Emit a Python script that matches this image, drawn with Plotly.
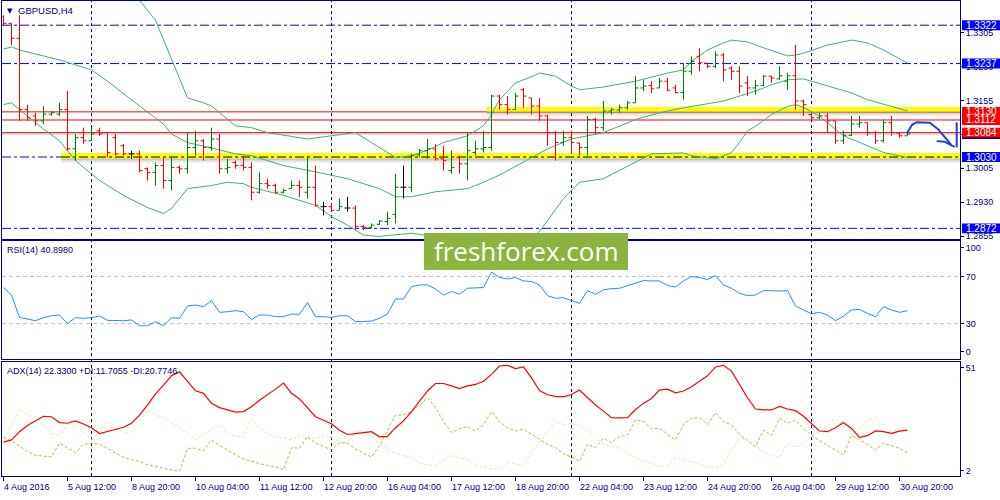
import plotly.graph_objects as go

# ---------------- data ----------------
symbol_title = "GBPUSD,H4"
rsi_title = "RSI(14) 40.8980"
adx_title = "ADX(14) 22.3300 +DI:11.7055 -DI:20.7746"

x_label_bars = [0, 8, 16, 24, 32, 40, 48, 56, 64, 72, 80, 88, 96, 104, 112]
x_labels = ["4 Aug 2016", "5 Aug 12:00", "8 Aug 20:00", "10 Aug 04:00", "11 Aug 12:00",
            "12 Aug 20:00", "16 Aug 04:00", "17 Aug 12:00", "18 Aug 20:00", "22 Aug 04:00",
            "23 Aug 12:00", "24 Aug 20:00", "26 Aug 04:00", "29 Aug 12:00", "30 Aug 20:00"]
separator_bars = [11, 41, 71, 101]

opens = [1.3340, 1.3326, 1.3293, 1.3135, 1.3121, 1.3110, 1.3125, 1.3125, 1.3135, 1.3048,
         1.3073, 1.3066, 1.3088, 1.3084, 1.3073, 1.3055, 1.3037, 1.3037, 1.3004, 1.2996,
         1.3011, 1.2978, 1.3007, 1.3004, 1.3051, 1.3066, 1.3051, 1.3070, 1.3004, 1.3018,
         1.3011, 1.3007, 1.2952, 1.2971, 1.2967, 1.2952, 1.2960, 1.2967, 1.2952, 1.2963,
         1.2920, 1.2920, 1.2912, 1.2917, 1.2917, 1.2876, 1.2874, 1.2881, 1.2887, 1.2903,
         1.2963, 1.2963, 1.3035, 1.3044, 1.3048, 1.3026, 1.3000, 1.3029, 1.3015, 1.3040,
         1.3048, 1.3051, 1.3165, 1.3146, 1.3135, 1.3179, 1.3161, 1.3143, 1.3121, 1.3084,
         1.3062, 1.3073, 1.3061, 1.3051, 1.3113, 1.3095, 1.3132, 1.3134, 1.3139, 1.3150,
         1.3183, 1.3188, 1.3183, 1.3198, 1.3183, 1.3173, 1.3220, 1.3253, 1.3238, 1.3231,
         1.3256, 1.3227, 1.3220, 1.3194, 1.3183, 1.3188, 1.3209, 1.3203, 1.3198, 1.3210,
         1.3154, 1.3124, 1.3117, 1.3121, 1.3110, 1.3066, 1.3078, 1.3103, 1.3106, 1.3084,
         1.3066, 1.3106, 1.3083, 1.3077]
highs = [1.3344, 1.3326, 1.3344, 1.3146, 1.3128, 1.3143, 1.3132, 1.3150, 1.3176, 1.3081,
         1.3095, 1.3095, 1.3095, 1.3084, 1.3081, 1.3059, 1.3044, 1.3044, 1.3007, 1.3018,
         1.3029, 1.3029, 1.3011, 1.3084, 1.3088, 1.3070, 1.3095, 1.3081, 1.3026, 1.3022,
         1.3033, 1.3018, 1.2996, 1.2982, 1.2971, 1.2960, 1.2978, 1.2978, 1.3033, 1.3011,
         1.2931, 1.2927, 1.2938, 1.2942, 1.2923, 1.2879, 1.2883, 1.2890, 1.2909, 1.2993,
         1.3011, 1.3037, 1.3048, 1.3070, 1.3059, 1.3055, 1.3044, 1.3033, 1.3084, 1.3066,
         1.3088, 1.3168, 1.3168, 1.3165, 1.3172, 1.3183, 1.3161, 1.3161, 1.3124, 1.3088,
         1.3088, 1.3088, 1.3062, 1.3121, 1.3117, 1.3154, 1.3139, 1.3146, 1.3154, 1.3209,
         1.3201, 1.3198, 1.3205, 1.3205, 1.3190, 1.3238, 1.3253, 1.3271, 1.3238, 1.3264,
         1.3260, 1.3231, 1.3231, 1.3209, 1.3201, 1.3212, 1.3210, 1.3231, 1.3216, 1.3278,
         1.3157, 1.3128, 1.3128, 1.3128, 1.3110, 1.3088, 1.3121, 1.3121, 1.3106, 1.3088,
         1.3113, 1.3121, 1.3084, 1.3084]
lows = [1.3322, 1.3278, 1.3110, 1.3110, 1.3099, 1.3103, 1.3121, 1.3121, 1.3044, 1.3022,
        1.3059, 1.3066, 1.3077, 1.3029, 1.3033, 1.3033, 1.3026, 1.2996, 1.2978, 1.2967,
        1.2960, 1.2956, 1.2993, 1.2993, 1.3033, 1.3022, 1.3044, 1.2993, 1.2993, 1.3004,
        1.3000, 1.2934, 1.2949, 1.2960, 1.2949, 1.2949, 1.2960, 1.2942, 1.2938, 1.2920,
        1.2901, 1.2909, 1.2912, 1.2909, 1.2868, 1.2868, 1.2872, 1.2879, 1.2879, 1.2883,
        1.2938, 1.2952, 1.3029, 1.3026, 1.3022, 1.3000, 1.2993, 1.2993, 1.2978, 1.3033,
        1.3040, 1.3044, 1.3135, 1.3124, 1.3135, 1.3139, 1.3124, 1.3110, 1.3055, 1.3022,
        1.3055, 1.3037, 1.3033, 1.3033, 1.3081, 1.3088, 1.3124, 1.3128, 1.3135, 1.3150,
        1.3176, 1.3172, 1.3183, 1.3176, 1.3172, 1.3157, 1.3212, 1.3220, 1.3227, 1.3227,
        1.3198, 1.3201, 1.3172, 1.3165, 1.3168, 1.3187, 1.3194, 1.3201, 1.3179, 1.3135,
        1.3121, 1.3113, 1.3113, 1.3084, 1.3059, 1.3059, 1.3077, 1.3095, 1.3077, 1.3059,
        1.3062, 1.3077, 1.3073, 1.3077]
closes = [1.3326, 1.3293, 1.3135, 1.3117, 1.3110, 1.3125, 1.3128, 1.3135, 1.3048, 1.3073,
          1.3066, 1.3081, 1.3081, 1.3040, 1.3037, 1.3037, 1.3037, 1.3000, 1.2996, 1.3011,
          1.2978, 1.3007, 1.3004, 1.3051, 1.3066, 1.3051, 1.3070, 1.3004, 1.3007, 1.3011,
          1.3007, 1.2952, 1.2971, 1.2967, 1.2952, 1.2956, 1.2967, 1.2963, 1.2963, 1.2923,
          1.2920, 1.2912, 1.2920, 1.2917, 1.2876, 1.2874, 1.2879, 1.2888, 1.2894, 1.2963,
          1.2963, 1.3033, 1.3044, 1.3048, 1.3026, 1.3022, 1.3007, 1.3015, 1.3044, 1.3048,
          1.3051, 1.3165, 1.3146, 1.3135, 1.3165, 1.3165, 1.3143, 1.3121, 1.3084, 1.3062,
          1.3073, 1.3062, 1.3051, 1.3113, 1.3095, 1.3132, 1.3135, 1.3139, 1.3150, 1.3183,
          1.3187, 1.3181, 1.3198, 1.3178, 1.3173, 1.3220, 1.3242, 1.3239, 1.3231, 1.3256,
          1.3223, 1.3220, 1.3187, 1.3183, 1.3188, 1.3209, 1.3205, 1.3210, 1.3210, 1.3154,
          1.3146, 1.3117, 1.3121, 1.3110, 1.3066, 1.3078, 1.3103, 1.3106, 1.3084, 1.3066,
          1.3106, 1.3084, 1.3077, 1.3081]

bb_upper_bars = [0, 2, 5, 7, 11, 13, 15, 17, 19, 21, 23, 25, 26, 29, 31, 33, 38, 41, 44, 46,
                 48, 49, 51, 53, 55, 58, 60, 61, 62, 64, 66, 67, 69, 71, 72, 75, 79, 83, 85, 86,
                 88, 90, 91, 93, 95, 97, 98, 99, 100, 101, 103, 106, 108, 110, 113]
bb_upper = [1.3391, 1.3406, 1.3421, 1.3425, 1.3425, 1.3417, 1.3399, 1.3377, 1.3333, 1.3245,
            1.3161, 1.3150, 1.3143, 1.3099, 1.3095, 1.3084, 1.3070, 1.3077, 1.3084, 1.3062,
            1.3040, 1.3029, 1.3033, 1.3045, 1.3062, 1.3077, 1.3099, 1.3124, 1.3157, 1.3194,
            1.3208, 1.3216, 1.3209, 1.3187, 1.3179, 1.3185, 1.3198, 1.3216, 1.3223, 1.3242,
            1.3267, 1.3283, 1.3289, 1.3285, 1.3272, 1.3261, 1.3254, 1.3256, 1.3260, 1.3266,
            1.3278, 1.3289, 1.3283, 1.3267, 1.3238]
bb_middle_bars = [0, 1, 2, 7, 11, 13, 17, 20, 21, 23, 26, 29, 31, 35, 39, 43, 47, 49, 51, 54,
                  58, 60, 62, 66, 68, 71, 75, 79, 82, 85, 89, 90, 92, 94, 96, 98, 100, 101, 103,
                  106, 108, 111, 113]
bb_middle = [1.3269, 1.3274, 1.3267, 1.3245, 1.3223, 1.3198, 1.3143, 1.3103, 1.3081, 1.3062,
             1.3050, 1.3037, 1.3033, 1.3011, 1.2997, 1.2982, 1.2960, 1.2942, 1.2942, 1.2953,
             1.2960, 1.2974, 1.2990, 1.3029, 1.3048, 1.3070, 1.3084, 1.3113, 1.3128, 1.3139,
             1.3150, 1.3154, 1.3165, 1.3176, 1.3190, 1.3201, 1.3203, 1.3198, 1.3188, 1.3172,
             1.3157, 1.3143, 1.3132]
bb_lower_bars = [0, 1, 2, 5, 7, 9, 12, 15, 18, 20, 21, 23, 26, 28, 30, 31, 35, 39, 41, 43,
                 45, 47, 48, 51, 54, 57, 61, 64, 66, 67, 70, 72, 75, 77, 79, 81, 85, 86, 89, 91,
                 92, 93, 94, 96, 98, 99, 100, 102, 103, 105, 108, 110, 113]
bb_lower = [1.3146, 1.3150, 1.3135, 1.3092, 1.3066, 1.3022, 1.2978, 1.2945, 1.2918, 1.2905,
            1.2916, 1.2960, 1.2967, 1.2974, 1.2971, 1.2963, 1.2945, 1.2923, 1.2898, 1.2879,
            1.2857, 1.2854, 1.2856, 1.2861, 1.2854, 1.2850, 1.2840, 1.2840, 1.2850, 1.2865,
            1.2938, 1.2974, 1.2982, 1.3000, 1.3018, 1.3037, 1.3039, 1.3033, 1.3026, 1.3040,
            1.3062, 1.3088, 1.3098, 1.3124, 1.3142, 1.3146, 1.3140, 1.3120, 1.3106, 1.3077,
            1.3055, 1.3040, 1.3029]

rsi = [60.6, 54.3, 35.3, 33.6, 32.5, 35.1, 36.7, 37.3, 30.2, 35.1,
       34.5, 35.1, 36.4, 32.8, 32.5, 32.5, 33.1, 28.2, 28.2, 31.6,
       28.2, 35.0, 34.5, 45.0, 45.8, 44.4, 49.5, 39.6, 40.1, 41.0,
       40.1, 33.6, 37.3, 37.3, 35.9, 35.9, 38.2, 37.9, 47.8, 35.9,
       35.9, 35.3, 36.7, 36.7, 31.6, 31.9, 32.2, 34.5, 38.2, 50.9,
       50.9, 61.4, 62.8, 62.8, 59.4, 54.3, 57.2, 54.9, 60.0, 60.3,
       60.6, 73.6, 69.1, 67.9, 69.1, 66.2, 65.7, 62.8, 53.7, 51.5,
       52.0, 49.5, 47.2, 58.0, 54.9, 58.6, 59.7, 60.0, 62.3, 64.8,
       66.5, 66.2, 66.2, 62.3, 61.1, 66.2, 69.9, 69.1, 67.4, 70.8,
       62.8, 60.0, 55.7, 53.7, 54.3, 58.0, 57.7, 57.7, 58.0, 45.0,
       41.6, 38.4, 39.6, 37.3, 32.5, 36.4, 41.6, 42.1, 38.7, 35.9,
       44.4, 41.6, 39.6, 41.0]
rsi_levels = [70, 30]

adx = [16.5, 17.5, 21.0, 23.6, 25.7, 27.6, 27.4, 24.9, 24.6, 25.6,
       24.3, 22.7, 20.2, 21.0, 21.9, 22.9, 24.6, 28.1, 32.4, 37.2,
       40.9, 44.9, 46.6, 42.6, 38.5, 37.4, 33.1, 31.3, 30.3, 29.4,
       29.6, 31.7, 34.4, 36.7, 39.2, 41.8, 37.4, 35.0, 31.3, 27.4,
       25.9, 24.4, 21.6, 19.8, 20.2, 20.5, 21.0, 18.8, 19.0, 22.7,
       25.6, 29.6, 34.1, 38.4, 41.6, 41.6, 40.6, 39.4, 40.6, 41.2,
       42.6, 45.5, 49.1, 49.4, 48.0, 48.7, 44.0, 38.6, 36.8, 36.1,
       35.9, 36.9, 38.8, 35.5, 32.4, 29.8, 27.0, 26.9, 27.0, 30.5,
       33.1, 35.2, 38.8, 39.2, 37.6, 38.4, 40.2, 42.6, 44.9, 48.7,
       49.4, 46.9, 40.9, 35.5, 30.7, 30.3, 30.3, 31.8, 30.7, 30.0,
       27.6, 24.4, 21.3, 21.0, 22.7, 24.9, 22.4, 18.6, 19.3, 21.3,
       21.0, 20.3, 21.2, 21.7]
plus_di = [18.5, 17.0, 14.8, 12.5, 10.9, 10.7, 10.2, 16.1, 14.2, 12.1,
           15.6, 16.1, 15.6, 13.9, 11.8, 10.1, 9.0, 8.3, 6.8, 6.0,
           5.4, 4.7, 4.0, 13.9, 13.9, 12.8, 17.5, 15.1, 13.2, 11.1,
           9.4, 8.3, 7.3, 6.5, 6.0, 4.7, 14.2, 13.9, 18.9, 16.1,
           14.6, 13.2, 16.3, 16.1, 13.6, 11.8, 10.1, 15.1, 21.7, 28.1,
           28.1, 29.6, 32.4, 35.5, 31.3, 25.3, 20.7, 22.2, 23.2, 21.3,
           24.1, 29.6, 25.3, 22.7, 21.3, 22.2, 19.9, 17.9, 15.6, 14.2,
           11.5, 10.2, 8.3, 15.6, 14.2, 18.2, 16.3, 18.9, 19.6, 26.0,
           25.3, 22.2, 22.4, 19.9, 17.5, 24.1, 26.7, 27.0, 24.1, 29.1,
           25.3, 23.9, 19.9, 17.1, 14.6, 21.7, 19.3, 26.7, 24.6, 26.0,
           22.2, 19.6, 17.1, 15.1, 13.2, 11.1, 19.3, 17.8, 15.4, 13.2,
           16.1, 15.1, 13.9, 11.8]
minus_di = [18.2, 23.9, 30.7, 27.9, 27.4, 23.9, 20.3, 19.6, 24.1, 24.1,
            20.8, 17.8, 20.8, 25.0, 22.2, 20.8, 20.8, 24.6, 30.3, 28.1,
            27.0, 24.9, 22.7, 20.3, 17.5, 19.6, 22.0, 23.9, 20.8, 18.9,
            18.9, 26.4, 22.4, 20.3, 18.9, 18.2, 17.6, 19.3, 17.8, 18.2,
            19.3, 18.2, 16.8, 16.1, 21.3, 21.3, 18.9, 16.1, 13.6, 11.8,
            10.8, 9.7, 7.5, 6.8, 6.5, 9.0, 10.7, 10.0, 9.0, 6.8,
            5.7, 5.1, 5.1, 7.9, 7.1, 6.5, 12.5, 16.1, 21.0, 25.3,
            23.9, 24.6, 23.4, 21.7, 18.2, 15.6, 14.6, 13.9, 12.2, 9.7,
            8.5, 7.5, 6.1, 6.5, 10.0, 9.0, 8.3, 7.1, 6.1, 5.4,
            7.1, 13.2, 17.8, 18.2, 15.1, 12.5, 10.8, 10.0, 16.1, 14.2,
            16.1, 19.3, 20.8, 23.9, 26.7, 23.2, 19.9, 22.4, 26.0, 27.0,
            23.9, 21.3, 22.7, 22.4]

price_ticks = [1.3305, 1.3230, 1.3155, 1.3080, 1.3005, 1.2930, 1.2855]
blue_levels = [1.3322, 1.3237, 1.3030, 1.2872]
red_levels = [1.3130, 1.3112, 1.3084]
yellow_zones = [(60.4, 1.3130, 1.3141), (7.2, 1.30265, 1.3039)]
support_line = (7.2, 1.3030)
rsi_tick_vals = [94.6, 70, 30, 6.1]
rsi_tick_text = ["100", "70", "30", "0"]
adx_tick_vals = [48.3, 4.26]
adx_tick_text = ["51", "2"]

n = len(closes)
for arr in (opens, highs, lows, rsi, adx, plus_di, minus_di):
    assert len(arr) == n, len(arr)

# ---------------- layout helpers ----------------
NAVY = "#000080"
FONT = "Liberation Sans, Arial, sans-serif"
W, H = 1000, 500
ML, MR = 2, 40
PW = W - ML - MR


def fx(px):
    return (px - ML) / PW


def fy(py):
    return 1 - py / H


XR = [-0.1875, 119.5625]
PRICE_RANGE = [1.28483, 1.33756]
main_dom = [fy(240), fy(1)]
rsi_dom = [fy(360.5), fy(242)]
adx_dom = [fy(478), fy(363)]

fig = go.Figure()

# Bollinger bands
for bx, by in ((bb_upper_bars, bb_upper), (bb_middle_bars, bb_middle), (bb_lower_bars, bb_lower)):
    fig.add_trace(go.Scatter(x=bx, y=by, mode="lines", xaxis="x", yaxis="y",
                             line=dict(color="#3CB371", width=1), hoverinfo="skip"))

# OHLC bars
TICK = 0.375
groups = {"#008000": [], "#FF0000": [], "#000000": []}
for i in range(n):
    if closes[i] > opens[i]:
        groups["#008000"].append(i)
    elif closes[i] < opens[i]:
        groups["#FF0000"].append(i)
    else:
        groups["#000000"].append(i)
for color, idx in groups.items():
    xs, ys = [], []
    for i in idx:
        xs += [i, i, None, i - TICK, i, None, i, i + TICK, None]
        ys += [lows[i], highs[i], None, opens[i], opens[i], None, closes[i], closes[i], None]
    fig.add_trace(go.Scatter(x=xs, y=ys, mode="lines", xaxis="x", yaxis="y",
                             line=dict(color=color, width=1), hoverinfo="skip"))

bars = list(range(n))
# RSI
fig.add_trace(go.Scatter(x=bars, y=rsi, mode="lines", xaxis="x2", yaxis="y2",
                         line=dict(color="#1E90FF", width=1), hoverinfo="skip"))
# ADX
fig.add_trace(go.Scatter(x=bars, y=minus_di, mode="lines", xaxis="x3", yaxis="y3",
                         line=dict(color="#F5DEB3", width=1, dash="3px,2px"), hoverinfo="skip"))
fig.add_trace(go.Scatter(x=bars, y=plus_di, mode="lines", xaxis="x3", yaxis="y3",
                         line=dict(color="#9ACD32", width=1, dash="3px,2px"), hoverinfo="skip"))
fig.add_trace(go.Scatter(x=bars, y=adx, mode="lines", xaxis="x3", yaxis="y3",
                         line=dict(color="#FF0000", width=1.2), hoverinfo="skip"))

shapes = []
# yellow zones with soft shadow
for x0, lo, hi in yellow_zones:
    shapes.append(dict(type="rect", xref="x", yref="y", x0=x0, x1=XR[1], y0=lo, y1=hi,
                       fillcolor="#FFFF00", line=dict(width=0), layer="below"))
    shapes.append(dict(type="rect", xref="x", yref="y", x0=x0, x1=XR[1], y0=lo - 0.00040, y1=lo,
                       fillcolor="rgba(0,0,0,0.22)", line=dict(width=0), layer="below"))
    shapes.append(dict(type="rect", xref="x", yref="y", x0=x0, x1=XR[1], y0=lo - 0.00090, y1=lo - 0.00040,
                       fillcolor="rgba(0,0,0,0.08)", line=dict(width=0), layer="below"))
for lv in blue_levels:
    shapes.append(dict(type="line", xref="paper", yref="y", x0=0, x1=1, y0=lv, y1=lv,
                       line=dict(color="#0000FF", width=1, dash="9px,3px,3px,3px"), layer="below"))
shapes.append(dict(type="line", xref="x", yref="y", x0=support_line[0], x1=XR[1],
                   y0=support_line[1], y1=support_line[1],
                   line=dict(color="#000000", width=1, dash="9px,3px,3px,3px"), layer="below"))
# bid line
shapes.append(dict(type="line", xref="paper", yref="y", x0=0, x1=1, y0=closes[-1], y1=closes[-1],
                   line=dict(color="#C0C0C0", width=1), layer="below"))
for lv in red_levels:
    shapes.append(dict(type="line", xref="paper", yref="y", x0=0, x1=1, y0=lv, y1=lv,
                       line=dict(color="#FF0000", width=1), layer="below"))
# RSI levels
for lv in rsi_levels:
    shapes.append(dict(type="line", xref="paper", yref="y2", x0=0, x1=1, y0=lv, y1=lv,
                       line=dict(color="#C0C0C0", width=1, dash="4px,3px"), layer="below"))
# period separators
for b in separator_bars:
    shapes.append(dict(type="line", xref="x", yref="paper", x0=b, x1=b, y0=adx_dom[0], y1=main_dom[1],
                       line=dict(color=NAVY, width=1, dash="3px,3px"), layer="below"))

# price boxes on the right scale
BH = 0.00110
box_x0, box_x1 = fx(962), fx(1000)
annotations = []
# bid label box (mostly hidden)
shapes.append(dict(type="rect", xref="paper", yref="y", x0=box_x0, x1=box_x1,
                   y0=closes[-1] - BH, y1=closes[-1] + BH, fillcolor=NAVY, line=dict(width=0), layer="above"))
for lv in blue_levels:
    shapes.append(dict(type="rect", xref="paper", yref="y", x0=box_x0, x1=box_x1, y0=lv - BH, y1=lv + BH,
                       fillcolor="#0000FF", line=dict(width=0), layer="above"))
    annotations.append(dict(xref="paper", yref="y", x=fx(964), y=lv, text=f"{lv:.4f}", showarrow=False,
                            xanchor="left", yanchor="middle", font=dict(family=FONT, size=10, color="white")))
for lv in red_levels:
    shapes.append(dict(type="rect", xref="paper", yref="y", x0=box_x0, x1=box_x1, y0=lv - BH, y1=lv + BH,
                       fillcolor="#FF0000", line=dict(width=0), layer="above"))
    annotations.append(dict(xref="paper", yref="y", x=fx(964), y=lv, text=f"{lv:.4f}", showarrow=False,
                            xanchor="left", yanchor="middle", font=dict(family=FONT, size=10, color="white")))

# hand drawn arrow
shapes.append(dict(type="path", xref="x", yref="y", layer="above",
                   path="M 112.9,1.30821 L 113.6,1.31020 L 114.15,1.31071 L 115.8,1.31058 "
                        "L 116.85,1.30910 L 117.9,1.30690 L 118.5,1.30557 L 118.9,1.30524",
                   line=dict(color="#1F3FDF", width=2)))
shapes.append(dict(type="path", xref="x", yref="y", layer="above",
                   path="M 116.65,1.30652 L 117.6,1.30640 L 118.4,1.30568",
                   line=dict(color="#1F3FDF", width=2)))
shapes.append(dict(type="line", xref="x", yref="y", layer="above", x0=119.15, x1=119.15,
                   y0=1.30513, y1=1.31065, line=dict(color="#1F3FDF", width=2)))

# logo
shapes.append(dict(type="rect", xref="paper", yref="paper", x0=fx(424), x1=fx(628), y0=fy(271), y1=fy(234),
                   fillcolor="#8DB43F", line=dict(width=0), layer="above"))
annotations.append(dict(xref="paper", yref="paper", x=fx(526), y=fy(252.5), text="freshforex.com",
                        showarrow=False, xanchor="center", yanchor="middle",
                        font=dict(family="Open Sans, sans-serif", size=26, color="white")))

# titles
annotations.append(dict(xref="paper", yref="paper", x=fx(9.5), y=fy(11), text="▼", showarrow=False,
                        xanchor="center", yanchor="middle", font=dict(family="DejaVu Sans", size=7, color=NAVY)))
annotations.append(dict(xref="paper", yref="paper", x=fx(16), y=fy(10.5), text=symbol_title, showarrow=False,
                        xanchor="left", yanchor="middle", font=dict(family=FONT, size=9.5, color=NAVY)))
annotations.append(dict(xref="paper", yref="paper", x=fx(5), y=fy(251.5), text=rsi_title, showarrow=False,
                        xanchor="left", yanchor="middle", font=dict(family=FONT, size=9, color=NAVY)))
annotations.append(dict(xref="paper", yref="paper", x=fx(5), y=fy(372), text=adx_title, showarrow=False,
                        xanchor="left", yanchor="middle", font=dict(family=FONT, size=9, color=NAVY)))
for b, t in zip(x_label_bars, x_labels):
    annotations.append(dict(xref="x3", yref="paper", x=b, y=fy(489), text=t, showarrow=False,
                            xanchor="left", yanchor="middle", xshift=-2,
                            font=dict(family=FONT, size=9, color=NAVY)))

axis_common = dict(showgrid=False, zeroline=False, showline=True, mirror=True,
                   linecolor=NAVY, linewidth=1)
tickfont = dict(family=FONT, size=9, color=NAVY)

fig.update_layout(
    width=W, height=H, margin=dict(l=ML, r=MR, t=0, b=0),
    paper_bgcolor="white", plot_bgcolor="white", showlegend=False,
    xaxis=dict(domain=[0, 1], range=XR, anchor="y", showticklabels=False, ticks="", **axis_common),
    xaxis2=dict(domain=[0, 1], range=XR, anchor="y2", showticklabels=False, ticks="", **axis_common),
    xaxis3=dict(domain=[0, 1], range=XR, anchor="y3", showticklabels=False, ticks="outside",
                tickvals=x_label_bars, ticklen=4, tickcolor=NAVY, **axis_common),
    yaxis=dict(domain=main_dom, range=PRICE_RANGE, anchor="x", side="right", tickvals=price_ticks,
               ticktext=[f"{v:.4f}" for v in price_ticks], ticks="outside", ticklen=3, tickcolor=NAVY,
               tickfont=tickfont, **axis_common),
    yaxis2=dict(domain=rsi_dom, range=[0, 100], anchor="x2", side="right", tickvals=rsi_tick_vals,
                ticktext=rsi_tick_text, ticks="outside", ticklen=3, tickcolor=NAVY, tickfont=tickfont,
                **axis_common),
    yaxis3=dict(domain=adx_dom, range=[2, 51], anchor="x3", side="right", tickvals=adx_tick_vals,
                ticktext=adx_tick_text, ticks="outside", ticklen=3, tickcolor=NAVY, tickfont=tickfont,
                **axis_common),
    shapes=shapes, annotations=annotations,
)

fig.write_html("out.html", config={"displayModeBar": False},
               post_script="document.body.style.margin='0';document.body.style.overflow='hidden';")
